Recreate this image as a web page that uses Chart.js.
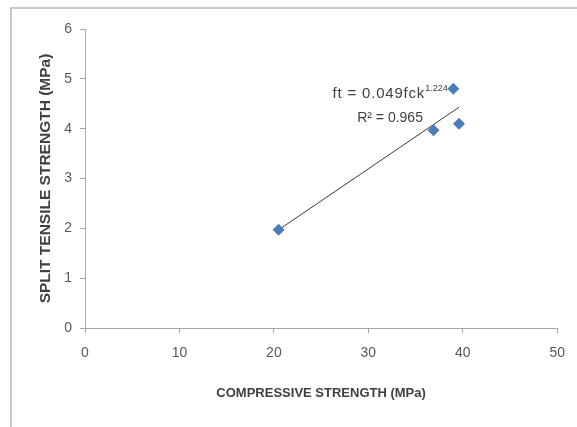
<!DOCTYPE html>
<html>
<head>
<meta charset="utf-8">
<script src="https://cdn.jsdelivr.net/npm/chart.js@4"></script>
<style>
  html, body { margin: 0; padding: 0; background: #fff; overflow: hidden; }
  #wrap { position: relative; width: 577px; height: 427px; }
  #frame { position: absolute; left: 10px; top: 7px; width: 600px; height: 440px;
           border: 2px solid #c9c9c9; box-shadow: 1px 1px 2px #ddd; }
  canvas { position: absolute; left: 0; top: 0; }
</style>
</head>
<body>
<div id="wrap">
  <div id="frame"></div>
  <canvas id="c" width="577" height="427"></canvas>
</div>
<script>
// compressive strength (MPa) vs split tensile strength (MPa)
const fck = [20.5, 36.9, 39.0, 39.6];
const ft = [1.97, 3.97, 4.80, 4.10];
// trendline ends
const trendX = [20.5, 39.6];
const trendY = [1.97, 4.43];
const xTicks = [0, 10, 20, 30, 40, 50];
const yTicks = [0, 1, 2, 3, 4, 5, 6];

const FONT = "'Liberation Sans', Arial, sans-serif";

const eqnLabel = {
  id: "eqnLabel",
  afterDatasetsDraw(chart) {
    const { ctx, scales } = chart;
    const x = scales.x, y = scales.y;
    ctx.save();
    ctx.fillStyle = "#404040";
    ctx.textBaseline = "middle";
    ctx.textAlign = "left";
    // ft = 0.049fck^1.224
    const main = "ft = 0.049fck";
    const sup = "1.224";
    ctx.letterSpacing = "0.8px";
    ctx.font = "15px " + FONT;
    const w1 = ctx.measureText(main).width;
    ctx.letterSpacing = "0px";
    ctx.font = "9px " + FONT;
    const w2 = ctx.measureText(sup).width;
    const right = x.getPixelForValue(38.4);
    const cy = y.getPixelForValue(4.70);
    ctx.letterSpacing = "0.8px";
    ctx.font = "15px " + FONT;
    ctx.fillText(main, right - w1 - w2, cy);
    ctx.letterSpacing = "0px";
    ctx.font = "9px " + FONT;
    ctx.fillText(sup, right - w2, cy - 5);
    // R² = 0.965
    ctx.font = "14px " + FONT;
    ctx.textAlign = "center";
    ctx.fillText("R\u00b2 = 0.965", x.getPixelForValue(32.3), y.getPixelForValue(4.22));
    ctx.restore();
  }
};

new Chart(document.getElementById("c"), {
  type: "scatter",
  data: {
    datasets: [
      {
        label: "trend",
        type: "line",
        data: trendX.map((v, i) => ({ x: v, y: trendY[i] })),
        borderColor: "#3a3a3a",
        borderWidth: 1,
        pointRadius: 0,
        fill: false,
        order: 2
      },
      {
        label: "data",
        data: fck.map((v, i) => ({ x: v, y: ft[i] })),
        pointStyle: "rectRot",
        pointRadius: 6,
        backgroundColor: "#4a7ebb",
        borderColor: "#4a7ebb",
        borderWidth: 0,
        order: 1
      }
    ]
  },
  options: {
    responsive: false,
    animation: false,
    layout: { padding: { left: 0, top: 29, right: 18, bottom: 0 } },
    plugins: { legend: { display: false }, tooltip: { enabled: false } },
    scales: {
      x: {
        type: "linear",
        min: 0, max: 50,
        afterBuildTicks: s => { s.ticks = xTicks.map(v => ({ value: v })); },
        afterFit: s => { s.height = 99; },
        grid: { drawOnChartArea: false, drawTicks: true, tickLength: 5, color: "#a6a6a6" },
        border: { display: true, color: "#a6a6a6", width: 1 },
        ticks: { color: "#595959", font: { family: FONT, size: 14 }, padding: 12, maxRotation: 0 },
        title: {
          display: true, text: "COMPRESSIVE STRENGTH (MPa)", color: "#404040",
          font: { family: FONT, size: 13, weight: "bold" }, padding: { top: 0, bottom: 26 }
        }
      },
      y: {
        type: "linear",
        min: 0, max: 6,
        afterBuildTicks: s => { s.ticks = yTicks.map(v => ({ value: v })); },
        afterFit: s => { s.width = 85; },
        grid: { drawOnChartArea: false, drawTicks: true, tickLength: 5, color: "#a6a6a6" },
        border: { display: true, color: "#a6a6a6", width: 1 },
        ticks: { color: "#595959", font: { family: FONT, size: 14 }, padding: 8 },
        title: {
          display: true, text: "SPLIT TENSILE STRENGTH (MPa)", color: "#404040",
          font: { family: FONT, size: 15.5, weight: "bold" }, padding: { top: 36, bottom: 0 }
        }
      }
    }
  },
  plugins: [eqnLabel]
});
</script>
</body>
</html>
